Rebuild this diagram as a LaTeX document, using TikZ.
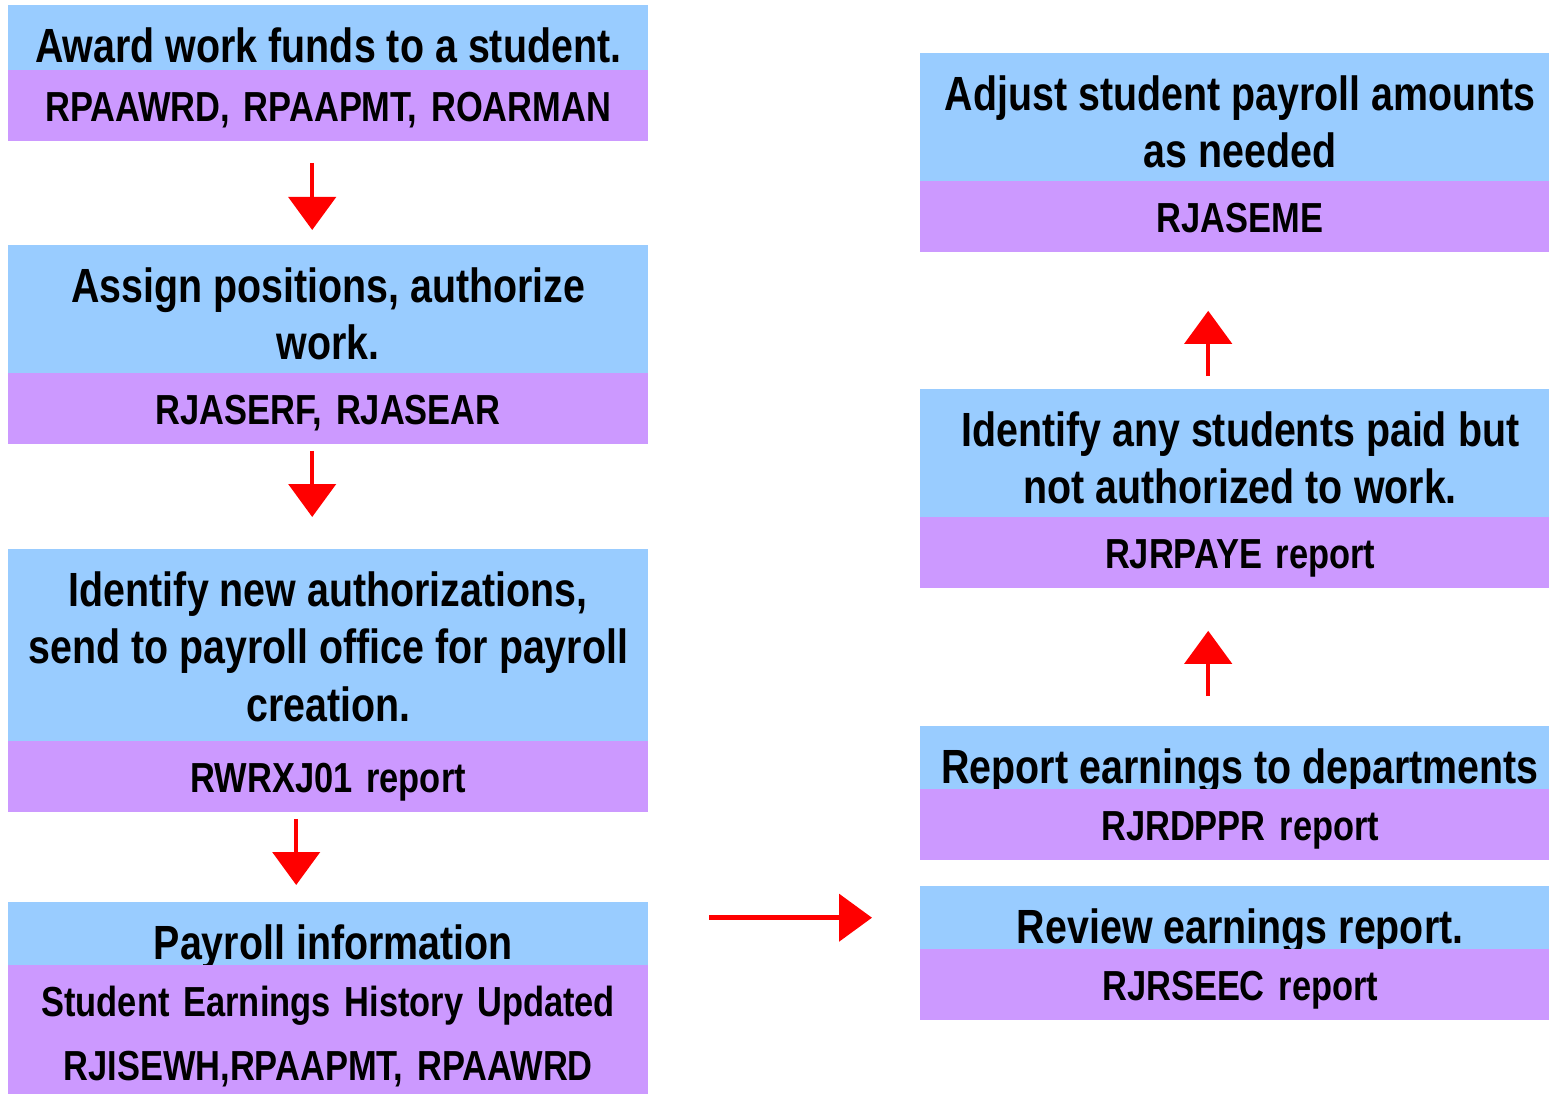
\documentclass[tikz,border=0pt]{standalone}
\usepackage{fontspec}
\usepackage{tikz}
\usepackage{xcolor}
\usetikzlibrary{positioning,arrows.meta}
\newfontfamily\narrowfont[FakeStretch=0.82]{Liberation Sans}
\definecolor{skyblue}{HTML}{99CCFF}
\definecolor{lilac}{HTML}{CC99FF}
\tikzset{
    title-box/.style = {fill=skyblue, rectangle, inner sep=0pt, text width=640pt, align=center, anchor=north west,
        font=\narrowfont\bfseries\fontsize{48}{57.5}\selectfont, text height=57pt,
        execute at begin node={\spaceskip=0.23em\relax}},
    code-box/.style = {fill=lilac, rectangle, inner sep=0pt, text width=640pt, align=center,
        font=\narrowfont\bfseries\fontsize{42}{64}\selectfont, text height=52pt, text depth=19pt,
        execute at begin node={\spaceskip=0.33em\relax}},
    flow-arrow/.style = {draw=red, line width=4.5pt, -{Triangle[width=47pt,length=33pt]}},
}
\begin{document}
\begin{tikzpicture}[x=1pt,y=-1pt]
\useasboundingbox (0,0) rectangle (1549,1094);
% left column
\node [title-box, text depth=8pt] (award-title) at (8,5) {Award work funds to a student.};
\node [code-box, below=-1pt of award-title] (award-code) {RPAAWRD, RPAAPMT, ROARMAN};
\node [title-box, text depth=71pt] (assign-title) at (8,245) {Assign positions, authorize\\ work.};
\node [code-box, below=-1pt of assign-title] (assign-code) {RJASERF, RJASEAR};
\node [title-box, text depth=135pt] (identify-title) at (8,549) {Identify new authorizations,\\ send to payroll office for payroll\\ creation.};
\node [code-box, below=-1pt of identify-title] (identify-code) {RWRXJ01 report};
\node [title-box, text depth=6pt] (payroll-title) at (8,902) {\hspace*{10pt}Payroll information};
\node [code-box, text depth=78pt, below=-1pt of payroll-title] (payroll-code) {Student Earnings History Updated\\ RJISEWH,RPAAPMT, RPAAWRD};
% right column
\node [title-box, text depth=71pt] (adjust-title) at (920,53) {Adjust student payroll amounts\\ as needed};
\node [code-box, below=-1pt of adjust-title] (adjust-code) {RJASEME};
\node [title-box, text depth=71pt] (unpaid-title) at (920,389) {Identify any students paid but\\ not authorized to work.};
\node [code-box, below=-1pt of unpaid-title] (unpaid-code) {RJRPAYE report};
\node [title-box, text depth=6pt] (report-title) at (920,726) {Report earnings to departments};
\node [code-box, below=-1pt of report-title] (report-code) {RJRDPPR report};
\node [title-box, text depth=6pt] (review-title) at (920,886) {Review earnings report.};
\node [code-box, below=-1pt of review-title] (review-code) {RJRSEEC report};
% arrows
\draw [flow-arrow, shorten <=22pt, shorten >=15pt] ([xshift=-16pt]award-code.south) -- ([xshift=-16pt]assign-title.north);
\draw [flow-arrow, shorten <=7pt, shorten >=32pt] ([xshift=-16pt]assign-code.south) -- ([xshift=-16pt]identify-title.north);
\draw [flow-arrow, shorten <=7pt, shorten >=17pt] ([xshift=-32pt]identify-code.south) -- ([xshift=-32pt]payroll-title.north);
\draw [flow-arrow, shorten <=61pt, shorten >=48pt] (payroll-title.east |- review-title.west) -- (review-title.west);
\draw [flow-arrow, shorten <=30pt, shorten >=43pt] ([xshift=-32pt]report-title.north) -- ([xshift=-32pt]unpaid-code.south);
\draw [flow-arrow, shorten <=13pt, shorten >=59pt] ([xshift=-32pt]unpaid-title.north) -- ([xshift=-32pt]adjust-code.south);
\end{tikzpicture}
\end{document}
